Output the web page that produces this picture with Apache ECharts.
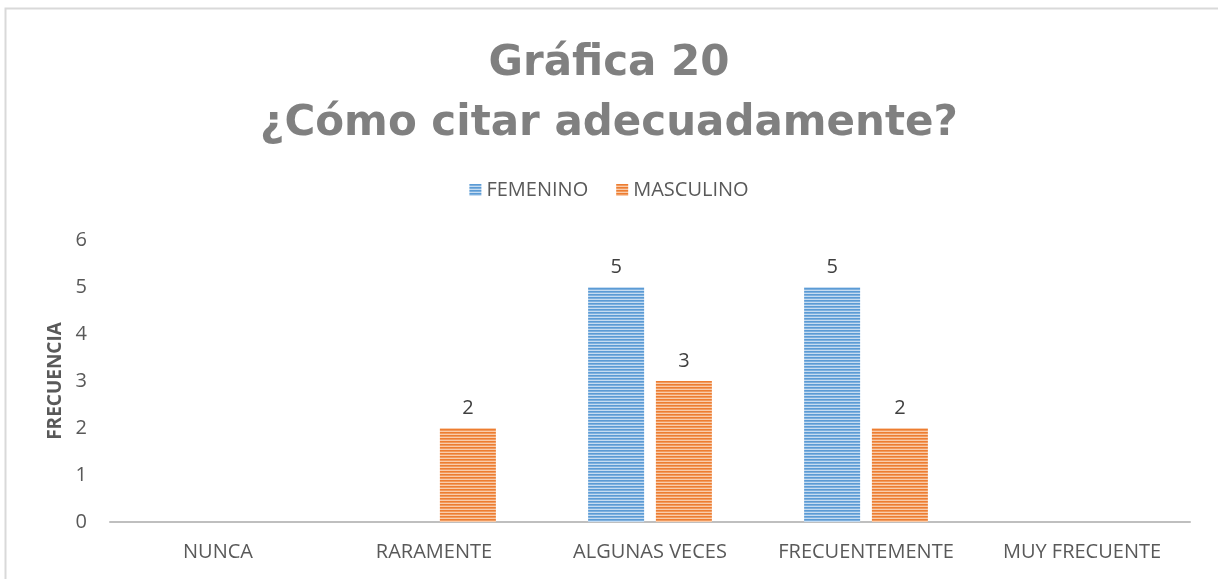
<!DOCTYPE html>
<html><head><meta charset="utf-8">
<script src="https://cdn.jsdelivr.net/npm/echarts@6/dist/echarts.min.js"></script>
<style>html,body{margin:0;padding:0;background:#fff}#c{width:1218px;height:579px}</style>
</head><body><div id="c"></div>
<script>
var categories = ['NUNCA','RARAMENTE','ALGUNAS VECES','FRECUENTEMENTE','MUY FRECUENTE'];
var femenino = [0,0,5,5,0];
var masculino = [0,2,3,2,0];
var seriesNames = ['FEMENINO','MASCULINO'];
var yTicks = [0,1,2,3,4,5,6];

function stripes(dark, mid, light){
  var c = document.createElement('canvas'); c.width = 4; c.height = 3;
  var x = c.getContext('2d');
  x.fillStyle = dark; x.fillRect(0,0,4,1);
  x.fillStyle = mid; x.fillRect(0,1,4,1);
  x.fillStyle = light; x.fillRect(0,2,4,1);
  return {image: c, repeat: 'repeat'};
}
var blueFill = stripes('#5b9bd5','#7eb0de','#c6dcf1');
var orangeFill = stripes('#ed7d31','#f19a5e','#f9ccab');

var chart = echarts.init(document.getElementById('c'));
var lbl = {show:true, position:'top', distance:10, color:'#404040', fontFamily:'Open Sans', fontSize:20,
  formatter:function(p){return p.value ? String(p.value) : '';}};
chart.setOption({
  animation:false,
  title:{text:'Gráfica 20\n¿Cómo citar adecuadamente?', left:'center', top:29,
    textStyle:{fontFamily:'DejaVu Sans', fontWeight:'bold', fontSize:42, lineHeight:60, color:'#808080'}},
  legend:{top:175, left:'center', icon:'rect', itemWidth:12, itemHeight:12, itemGap:28,
    textStyle:{fontFamily:'Open Sans', fontSize:20, color:'#595959'}},
  grid:{left:110, right:28, top:240, bottom:57},
  xAxis:{type:'category', data:categories,
    axisLine:{lineStyle:{color:'#bfbfbf', width:2}}, axisTick:{show:false},
    axisLabel:{interval:0, hideOverlap:false, color:'#595959', fontFamily:'Open Sans', fontSize:20, margin:20}},
  yAxis:{type:'value', min:0, max:6, interval:1,
    name:'FRECUENCIA', nameLocation:'middle', nameGap:44, nameRotate:90,
    nameTextStyle:{fontFamily:'Open Sans', fontWeight:'bold', fontSize:19, color:'#595959'},
    axisLabel:{color:'#595959', fontFamily:'Open Sans', fontSize:20, margin:23,
      formatter:function(v){return yTicks.indexOf(v)>=0 ? String(v) : '';}},
    splitLine:{show:false}, axisLine:{show:false}, axisTick:{show:false}},
  series:[
    {name:seriesNames[0], type:'bar', data:femenino, barWidth:56, barGap:'21%', itemStyle:{color:blueFill}, label:lbl},
    {name:seriesNames[1], type:'bar', data:masculino, barWidth:56, barGap:'21%', itemStyle:{color:orangeFill}, label:lbl}
  ],
  graphic:[{type:'rect', shape:{x:5.5, y:8.5, width:1230, height:600}, style:{fill:null, stroke:'#d9d9d9', lineWidth:2}, silent:true}]
});
</script></body></html>
